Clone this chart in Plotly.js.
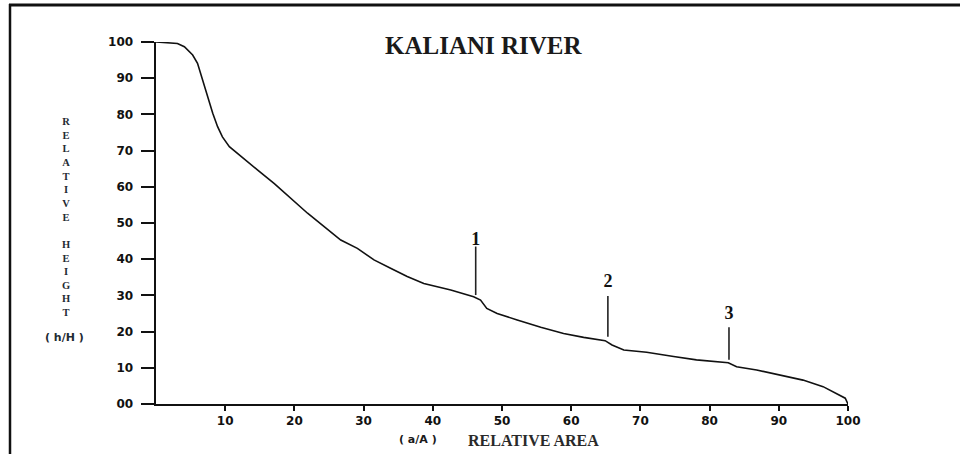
<!DOCTYPE html>
<html>
<head>
<meta charset="utf-8">
<script src="https://cdn.plot.ly/plotly-3.0.1.min.js"></script>
<style>
  html, body { margin: 0; padding: 0; background: #fff; }
  #chart { width: 960px; height: 454px; }
</style>
</head>
<body>
<div id="chart"></div>
<script>
// Hypsometric curve readings (relative area a/A, relative height h/H)
const relArea = [0, 3.1, 4.1, 5.3, 6.0, 6.7, 7.4, 8.2, 8.9, 9.6, 10.6, 12.3, 14.7, 17.1, 19.5, 21.9, 24.3, 26.7, 29.1, 31.5, 33.9, 36.3, 38.7, 40.9, 42.6, 45.9, 46.9, 47.8, 49.3, 52.2, 55.6, 58.9, 61.8, 64.9, 65.9, 67.6, 70.9, 74.8, 78.1, 82.7, 83.9, 86.8, 90.2, 93.5, 96.4, 98.3, 99.6, 100];
const relHeight = [100, 99.6, 98.7, 96.4, 94.1, 89.5, 84.9, 80.3, 76.6, 73.8, 71.1, 68.3, 64.6, 60.9, 56.8, 52.7, 49.0, 45.3, 43.0, 39.8, 37.5, 35.2, 33.3, 32.4, 31.5, 29.6, 28.7, 26.4, 25.0, 23.2, 21.2, 19.5, 18.4, 17.5, 16.3, 14.9, 14.3, 13.1, 12.2, 11.4, 10.3, 9.4, 8.0, 6.6, 4.8, 3.0, 1.6, 0];

// Break-point markers
const markerLabels = ["1", "2", "3"];
const markerX = [46.2, 65.3, 82.8];
const markerTop = [43.5, 29.8, 21.2];
const markerBottom = [30.1, 18.6, 12.2];
const markerLabelY = [45.3, 33.5, 24.6];

// Axis ticks
const xTickVals = [10, 20, 30, 40, 50, 60, 70, 80, 90, 100];
const xTickText = ["10", "20", "30", "40", "50", "60", "70", "80", "90", "100"];
const yTickVals = [0, 10, 20, 30, 40, 50, 60, 70, 80, 90, 100];
const yTickText = ["00", "10", "20", "30", "40", "50", "60", "70", "80", "90", "100"];

const titleText = "KALIANI RIVER";
const yTitleWords = ["RELATIVE", "HEIGHT"];
const yTitleUnit = "( h/H )";
const xTitleUnit = "( a/A )";
const xTitleText = "RELATIVE AREA";

// plot area geometry (pixels)
const L = 156, R = 112, T = 42, B = 50;
const W = 960, H = 454;
const pw = W - L - R, ph = H - T - B;
const px = v => (v - L) / pw;          // pixel x -> paper x
const py = v => (H - B - v) / ph;      // pixel y -> paper y

// marker vertical lines trace
const mx = [], my = [];
for (let i = 0; i < markerX.length; i++) {
  mx.push(markerX[i], markerX[i], null);
  my.push(markerTop[i], markerBottom[i], null);
}

const traces = [
  {
    x: relArea, y: relHeight, type: "scatter", mode: "lines",
    line: { color: "#111", width: 1.6, shape: "linear" },
    hoverinfo: "x+y", cliponaxis: false
  },
  {
    x: mx, y: my, type: "scatter", mode: "lines",
    line: { color: "#222", width: 1.6 }, hoverinfo: "skip", cliponaxis: false
  },
  {
    x: markerX, y: markerLabelY, type: "scatter", mode: "text",
    text: markerLabels, textposition: "middle center",
    textfont: { family: "Liberation Serif, serif", size: 18, color: "#111", weight: "bold" },
    hoverinfo: "skip", cliponaxis: false
  }
];

const serifBold = { family: "Liberation Serif, Times New Roman, serif", color: "#1a1a1a", weight: "bold" };
const annotations = [];

// Chart title
annotations.push({
  text: titleText, xref: "paper", yref: "paper", x: px(484), y: py(46),
  xanchor: "center", yanchor: "middle", showarrow: false,
  font: Object.assign({}, serifBold, { size: 25 })
});

// Vertical stacked y-axis title: one letter per line, blank line between words
const stacked = yTitleWords.map(w => w.split("").join("<br>")).join("<br><br>");
annotations.push({
  text: stacked, xref: "paper", yref: "paper", x: px(66), y: py(114),
  xanchor: "center", yanchor: "top", showarrow: false, align: "center",
  font: { family: "Liberation Serif, serif", size: 10.5, color: "#1f2b33", weight: "bold" }
});
annotations.push({
  text: yTitleUnit, xref: "paper", yref: "paper", x: px(64), y: py(337),
  xanchor: "center", yanchor: "middle", showarrow: false,
  font: { family: "DejaVu Sans, sans-serif", size: 11, color: "#1f2b33", weight: "bold" }
});

// x-axis title
annotations.push({
  text: xTitleUnit, xref: "paper", yref: "paper", x: px(418), y: py(439),
  xanchor: "center", yanchor: "middle", showarrow: false,
  font: { family: "DejaVu Sans, sans-serif", size: 11, color: "#1a1a1a", weight: "bold" }
});
annotations.push({
  text: xTitleText, xref: "paper", yref: "paper", x: px(466), y: py(440),
  xanchor: "left", yanchor: "middle", showarrow: false,
  font: Object.assign({}, serifBold, { size: 16, color: "#2a2a2a" })
});

// page frame
const shapes = [
  { type: "line", xref: "paper", yref: "paper", x0: px(10), x1: px(10), y0: py(4), y1: py(454),
    line: { color: "#111", width: 2.5 } },
  { type: "line", xref: "paper", yref: "paper", x0: px(9), x1: px(960), y0: py(5), y1: py(5),
    line: { color: "#111", width: 3 } }
];

const tickFont = { family: "DejaVu Sans, sans-serif", size: 12, color: "#111", weight: "bold" };

const layout = {
  width: W, height: H,
  margin: { l: L, r: R, t: T, b: B, pad: 0 },
  paper_bgcolor: "#fff", plot_bgcolor: "#fff",
  showlegend: false,
  xaxis: {
    range: [0, 100], showgrid: false, zeroline: false,
    showline: true, linecolor: "#111", linewidth: 2,
    ticks: "outside", ticklen: 5, tickwidth: 2, tickcolor: "#111",
    tickvals: xTickVals, ticktext: xTickText, tickfont: tickFont,
    ticklabelstandoff: 0
  },
  yaxis: {
    range: [0, 100], showgrid: false, zeroline: false,
    showline: true, linecolor: "#111", linewidth: 2.5,
    ticks: "outside", ticklen: 13, tickwidth: 2, tickcolor: "#111",
    tickvals: yTickVals, ticktext: yTickText, tickfont: tickFont,
    ticklabelstandoff: 5
  },
  annotations: annotations,
  shapes: shapes
};

Plotly.newPlot("chart", traces, layout, { staticPlot: true, displayModeBar: false });
</script>
</body>
</html>
